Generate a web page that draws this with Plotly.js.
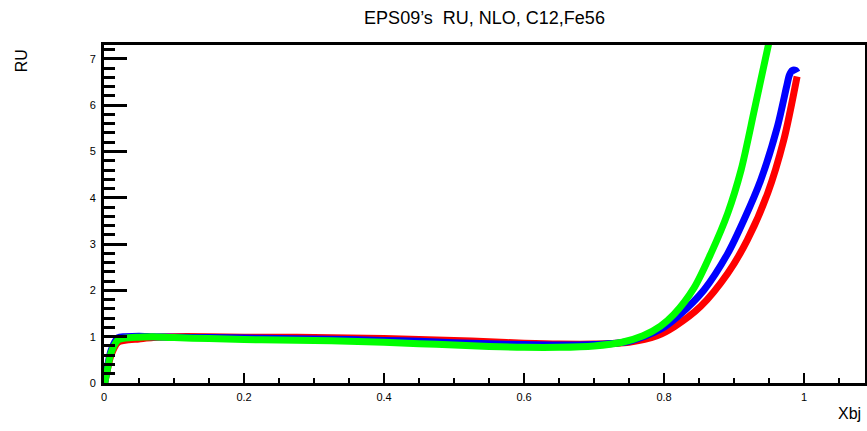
<!DOCTYPE html>
<html>
<head>
<meta charset="utf-8">
<script src="https://cdn.plot.ly/plotly-3.0.1.min.js"></script>
<style>
  html, body { margin: 0; padding: 0; background: #fff; }
  #chart { width: 867px; height: 431px; }
</style>
</head>
<body>
<div id="chart"></div>
<script>
// EPS09 nuclear modification ratio RU (NLO) versus Bjorken x
const xRed = [0.001, 0.005, 0.01, 0.02, 0.03, 0.05, 0.07, 0.1, 0.15, 0.2, 0.25, 0.3, 0.35, 0.4, 0.45, 0.5, 0.55, 0.6, 0.65, 0.7, 0.75, 0.79, 0.815, 0.852, 0.891, 0.919, 0.948, 0.971, 0.990];
const yRed = [0.0, 0.3, 0.6, 0.88, 0.92, 0.95, 0.98, 1.0, 1.0, 0.99, 0.99, 0.98, 0.97, 0.96, 0.94, 0.92, 0.89, 0.86, 0.84, 0.84, 0.88, 1.02, 1.22, 1.65, 2.37, 3.09, 4.1, 5.25, 6.62];

const xBlue = [0.001, 0.005, 0.01, 0.02, 0.03, 0.05, 0.07, 0.1, 0.15, 0.2, 0.25, 0.3, 0.35, 0.4, 0.45, 0.5, 0.55, 0.6, 0.65, 0.7, 0.75, 0.795, 0.819, 0.857, 0.891, 0.914, 0.938, 0.962, 0.975, 0.979, 0.983, 0.988, 0.990];
const yBlue = [0.0, 0.35, 0.7, 0.98, 1.0, 1.01, 1.0, 0.99, 0.98, 0.97, 0.96, 0.95, 0.94, 0.92, 0.9, 0.87, 0.85, 0.83, 0.82, 0.83, 0.9, 1.16, 1.43, 2.01, 2.8, 3.52, 4.38, 5.54, 6.4, 6.65, 6.75, 6.75, 6.71];

const xGreen = [0.001, 0.005, 0.01, 0.02, 0.03, 0.05, 0.07, 0.1, 0.15, 0.2, 0.25, 0.3, 0.35, 0.4, 0.45, 0.5, 0.55, 0.6, 0.65, 0.7, 0.74, 0.77, 0.795, 0.814, 0.843, 0.867, 0.891, 0.91, 0.929, 0.949, 0.956];
const yGreen = [0.0, 0.3, 0.65, 0.93, 0.97, 0.99, 1.0, 0.98, 0.96, 0.94, 0.93, 0.92, 0.9, 0.88, 0.85, 0.82, 0.79, 0.77, 0.77, 0.8, 0.88, 1.02, 1.23, 1.48, 2.06, 2.8, 3.67, 4.6, 5.9, 7.3, 7.75];

const titleText = "EPS09\u2019s  RU, NLO, C12,Fe56";
const xTitle = "Xbj";
const yTitle = "RU";

const font = "Liberation Sans, Arial, Helvetica, sans-serif";

function curve(x, y, color) {
  return {
    x: x, y: y, type: "scatter", mode: "lines",
    line: { color: color, width: 7, shape: "spline", smoothing: 0.8 },
    hoverinfo: "skip", showlegend: false
  };
}

const data = [
  curve(xRed, yRed, "#ff0000"),
  curve(xBlue, yBlue, "#0000ff"),
  curve(xGreen, yGreen, "#00ff00")
];

const layout = {
  width: 867, height: 431,
  margin: { l: 104, r: 2, t: 45, b: 48, pad: 0 },
  paper_bgcolor: "#ffffff",
  plot_bgcolor: "#ffffff",
  font: { family: font, color: "#000000", size: 11 },
  title: {
    text: titleText,
    font: { family: font, size: 18, color: "#000000" },
    xref: "paper", x: 0.5, xanchor: "center",
    yref: "container", y: 0.958, yanchor: "middle"
  },
  xaxis: {
    range: [0, 1.087],
    showgrid: false, zeroline: false,
    showline: true, linecolor: "#000000", linewidth: 3, mirror: true,
    ticks: "inside", tickcolor: "#000000", ticklen: 10, tickwidth: 2,
    tick0: 0, dtick: 0.2,
    minor: { ticks: "inside", dtick: 0.05, ticklen: 5, tickwidth: 2, tickcolor: "#000000", showgrid: false },
    tickfont: { family: font, size: 11, color: "#000000" },
    ticklabelstandoff: 2
  },
  yaxis: {
    range: [0, 7.3],
    showgrid: false, zeroline: false,
    showline: true, linecolor: "#000000", linewidth: 3, mirror: true,
    ticks: "inside", tickcolor: "#000000", ticklen: 23, tickwidth: 3,
    tick0: 0, dtick: 1,
    minor: { ticks: "inside", dtick: 0.2, ticklen: 11, tickwidth: 3, tickcolor: "#000000", showgrid: false },
    tickfont: { family: font, size: 11, color: "#000000" },
    ticklabelstandoff: 3
  },
  annotations: [
    {
      text: yTitle, xref: "paper", yref: "paper",
      x: -0.109, y: 0.952, xanchor: "center", yanchor: "middle",
      textangle: -90, showarrow: false,
      font: { family: font, size: 16, color: "#000000" }
    },
    {
      text: xTitle, xref: "paper", yref: "paper",
      x: 0.997, y: -0.09, xanchor: "right", yanchor: "middle",
      showarrow: false,
      font: { family: font, size: 16, color: "#000000" }
    }
  ]
};

Plotly.newPlot("chart", data, layout, { displayModeBar: false, staticPlot: true });
</script>
</body>
</html>
